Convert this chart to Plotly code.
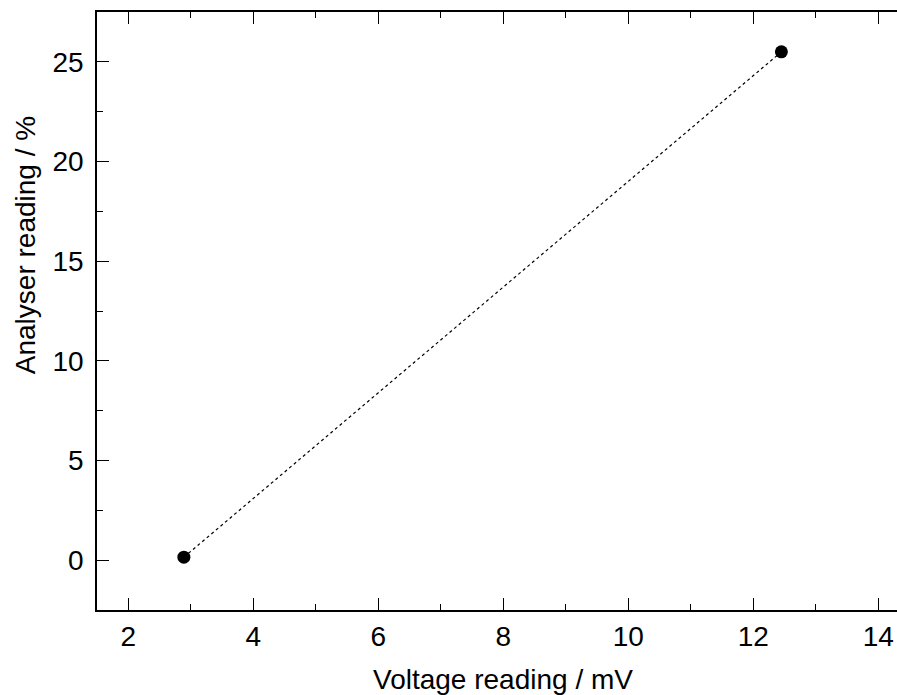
import plotly.graph_objects as go

# Calibration points: voltage (mV) vs analyser reading (%)
voltage_mv = [2.89, 12.45]
analyser_pct = [0.15, 25.5]

x_tick_vals = [2, 4, 6, 8, 10, 12, 14]
y_tick_vals = [0, 5, 10, 15, 20, 25]

FONT = "Liberation Sans, Arial, sans-serif"

fig = go.Figure()
fig.add_trace(go.Scatter(
    x=voltage_mv,
    y=analyser_pct,
    mode="lines+markers",
    line=dict(color="black", width=1.2, dash="3px,3px"),
    marker=dict(color="black", size=13, symbol="circle"),
    showlegend=False,
))

axis_common = dict(
    showgrid=False,
    zeroline=False,
    showline=True,
    linecolor="black",
    linewidth=1.5,
    ticks="inside",
    ticklen=12,
    tickwidth=1.3,
    tickcolor="black",
    tickfont=dict(family=FONT, size=28, color="black"),
)

fig.update_xaxes(
    **axis_common,
    range=[1.5, 14.3],
    tickvals=x_tick_vals,
    mirror="ticks",
    ticklabelstandoff=1,
    minor=dict(dtick=1, tick0=1, ticks="inside", ticklen=6, tickwidth=1.3, tickcolor="black"),
)
fig.update_yaxes(
    **axis_common,
    range=[-2.5, 27.5],
    tickvals=y_tick_vals,
    mirror=False,
    ticklabelstandoff=6,
    minor=dict(dtick=2.5, tick0=0, ticks="inside", ticklen=6, tickwidth=1.3, tickcolor="black"),
)

# Axis titles placed as annotations
fig.add_annotation(
    text="Voltage reading / mV", xref="paper", yref="paper",
    x=0.508, y=-0.117, xanchor="center", yanchor="middle", showarrow=False,
    font=dict(family=FONT, size=28, color="black"),
)
fig.add_annotation(
    text="Analyser reading / %", xref="paper", yref="paper",
    x=-0.09, y=0.61, xanchor="center", yanchor="middle", showarrow=False,
    textangle=-90,
    font=dict(family=FONT, size=28, color="black"),
)

fig.update_layout(
    width=897,
    height=695,
    margin=dict(l=97, r=0, t=12, b=85),
    plot_bgcolor="white",
    paper_bgcolor="white",
)

fig.write_html("out.html")
